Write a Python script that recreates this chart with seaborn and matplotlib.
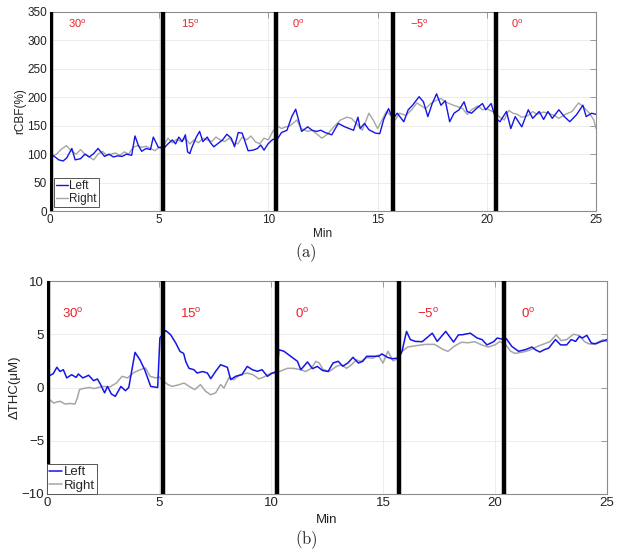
import numpy as np
import pandas as pd
import matplotlib
matplotlib.use("Agg")
import matplotlib.pyplot as plt
import seaborn as sns

# ---------------- data ----------------
# Panel (a): rCBF (%)
a_left_t = [0, 0.2, 0.4, 0.6, 0.76, 1.0, 1.15, 1.4, 1.6, 1.8, 2.0, 2.2, 2.5, 2.7, 2.9, 3.1, 3.3, 3.5,
            3.74, 3.89, 4.05, 4.2, 4.4, 4.6, 4.73, 4.96, 5.2, 5.4, 5.6, 5.75, 5.9, 6.05, 6.2, 6.3, 6.4,
            6.5, 6.7, 6.85, 7.0, 7.2, 7.35, 7.5, 7.7, 7.9, 8.1, 8.3, 8.45, 8.62, 8.8, 9.07, 9.3, 9.5,
            9.65, 9.8, 9.98, 10.2, 10.4, 10.6, 10.85, 11.07, 11.25, 11.52, 11.8, 12.0, 12.2, 12.4,
            12.6, 12.9, 13.2, 13.5, 13.9, 14.1, 14.2, 14.4, 14.6, 14.9, 15.1, 15.28, 15.5, 15.7, 15.9,
            16.2, 16.4, 16.6, 16.9, 17.1, 17.3, 17.5, 17.7, 17.9, 18.1, 18.3, 18.5, 18.73, 18.96,
            19.1, 19.3, 19.55, 19.8, 19.95, 20.2, 20.4, 20.6, 20.9, 21.1, 21.3, 21.6, 21.9, 22.1,
            22.4, 22.6, 22.8, 23.0, 23.3, 23.55, 23.8, 24.1, 24.4, 24.55, 24.8, 25.0]
a_left_v = [100, 96, 90, 88, 93, 110, 90, 92, 100, 95, 101, 110, 96, 100, 95, 97, 96, 100,
            98, 132, 115, 105, 110, 108, 130, 112, 110, 118, 125, 118, 130, 122, 134, 104, 101,
            112, 130, 140, 122, 130, 120, 113, 119, 125, 135, 128, 113, 138, 137, 106, 107, 110,
            116, 107, 118, 126, 126, 138, 142, 166, 179, 140, 148, 142, 140, 142,
            138, 134, 154, 148, 142, 165, 145, 154, 143, 137, 136, 161, 180, 162, 172,
            157, 178, 186, 201, 192, 166, 189, 206, 186, 194, 157, 172, 178, 192,
            175, 172, 181, 189, 178, 189, 163, 157, 175, 145, 166, 148, 178, 163,
            175, 161, 175, 163, 178, 166, 157, 169, 186, 166, 172, 170]

a_right_t = [0, 0.3, 0.5, 0.75, 1.0, 1.2, 1.4, 1.6, 1.8, 2.0, 2.2, 2.4, 2.6, 2.8, 3.0, 3.2, 3.4, 3.6,
             3.8, 4.0, 4.2, 4.4, 4.6, 4.8, 5.0, 5.2, 5.4, 5.6, 5.8, 6.0, 6.2, 6.4, 6.6, 6.8, 7.0,
             7.2, 7.4, 7.6, 7.8, 8.0, 8.2, 8.4, 8.6, 8.8, 9.0, 9.2, 9.4, 9.6, 9.8, 10.0, 10.2, 10.4,
             10.6, 10.8, 11.0, 11.3, 11.5, 11.8, 12.0, 12.2, 12.45, 12.7, 13.0, 13.3, 13.6, 13.8,
             14.0, 14.3, 14.6, 14.8, 15.0, 15.2, 15.4, 15.6, 15.8, 16.0, 16.3, 16.6, 16.8, 17.0,
             17.2, 17.4, 17.6, 17.9, 18.1, 18.4, 18.7, 18.9, 19.1, 19.3, 19.6, 19.8, 20.0, 20.2,
             20.4, 20.6, 20.8, 21.0, 21.2, 21.4, 21.6, 21.9, 22.1, 22.3, 22.6, 22.8, 23.1, 23.3,
             23.6, 23.9, 24.2, 24.4, 24.5, 24.7, 24.9, 25.0]
a_right_v = [95, 100, 108, 115, 105, 100, 108, 100, 95, 90, 100, 105, 98, 100, 102, 98, 104, 100,
             112, 115, 112, 114, 110, 106, 112, 115, 128, 120, 126, 122, 128, 118, 125, 120, 128,
             125, 122, 130, 125, 122, 128, 120, 118, 130, 125, 132, 122, 118, 128, 125, 140, 150,
             145, 148, 150, 160, 145, 140, 142, 136, 128, 135, 148, 160, 165, 163,
             155, 142, 172, 160, 145, 160, 175, 168, 160, 172, 168, 180, 190, 185,
             180, 188, 193, 198, 192, 187, 183, 180, 170, 178, 185, 178, 180, 176,
             172, 165, 160, 177, 172, 170, 165, 168, 175, 170, 174, 172, 168, 163,
             170, 175, 190, 184, 180, 172, 160, 145]

# Panel (b): delta THC (uM)
b_left_t = [0.0, 0.1, 0.28, 0.44, 0.58, 0.73, 0.88, 1.1, 1.3, 1.4, 1.6, 1.86, 2.08, 2.25, 2.38, 2.57,
            2.7, 2.87, 3.05, 3.3, 3.5, 3.65, 3.93, 4.15, 4.36, 4.63, 4.94, 5.04, 5.3, 5.52, 5.75,
            5.94, 6.1, 6.2, 6.34, 6.56, 6.7, 6.95, 7.16, 7.31, 7.53, 7.75, 8.05, 8.2, 8.42, 8.7,
            8.94, 9.17, 9.39, 9.6, 9.84, 10.06, 10.28, 10.35, 10.58, 10.88, 11.18, 11.33, 11.63,
            11.85, 12.07, 12.3, 12.55, 12.77, 13.0, 13.2, 13.43, 13.66, 13.9, 14.1, 14.27, 14.5,
            14.8, 14.95, 15.2, 15.4, 15.7, 15.85, 16.05, 16.22, 16.45, 16.75, 17.2, 17.42, 17.8,
            18.15, 18.37, 18.53, 18.9, 19.2, 19.42, 19.64, 19.94, 20.1, 20.3, 20.5, 20.75, 21.05,
            21.35, 21.65, 21.8, 22.0, 22.2, 22.4, 22.7, 22.93, 23.2, 23.4, 23.6, 23.77, 23.9,
            24.1, 24.3, 24.5, 24.75, 24.9, 25.0]
b_left_v = [1.6, 1.1, 1.3, 1.9, 1.5, 1.67, 0.9, 1.2, 0.95, 1.27, 0.9, 1.15, 0.64, 0.8, 0.33, -0.5,
            0.1, -0.6, -0.83, 0.1, -0.3, 0.0, 3.3, 2.6, 1.67, 0.1, 0.0, 4.65, 5.35, 4.95, 4.17,
            3.38, 3.2, 2.4, 1.8, 1.67, 1.36, 1.5, 1.36, 0.83, 1.52, 2.14, 1.9, 0.74, 1.05, 1.2,
            1.98, 1.67, 1.52, 1.67, 1.05, 1.36, 1.52, 3.55, 3.4, 2.93, 2.46, 1.67, 2.4,
            1.77, 1.98, 1.6, 1.5, 2.3, 2.46, 2.0, 2.3, 2.83, 2.3, 2.46, 2.93, 2.93,
            2.93, 3.15, 2.83, 2.7, 2.77, 3.4, 5.27, 4.5, 4.33, 4.3, 5.1, 4.33, 5.27,
            4.27, 4.95, 4.95, 5.1, 4.65, 4.5, 4.0, 4.3, 4.65, 4.55, 4.6, 3.86, 3.4,
            3.55, 3.8, 3.55, 3.33, 3.55, 3.7, 4.5, 4.0, 4.0, 4.5, 4.33, 4.8, 4.65,
            4.9, 4.17, 4.1, 4.33, 4.4, 4.5]

b_right_t = [0.0, 0.15, 0.3, 0.45, 0.6, 0.8, 1.0, 1.25, 1.35, 1.45, 1.6, 1.9, 2.1, 2.3, 2.5, 2.8, 3.1,
             3.35, 3.6, 3.85, 4.15, 4.4, 4.6, 4.85, 5.0, 5.2, 5.4, 5.6, 5.9, 6.12, 6.35, 6.6, 6.85,
             7.08, 7.31, 7.53, 7.75, 7.9, 8.13, 8.35, 8.6, 8.94, 9.2, 9.46, 9.7, 10.0, 10.2, 10.4,
             10.73, 11.0, 11.33, 11.55, 11.8, 12.0, 12.15, 12.32, 12.6, 12.92, 13.15, 13.37, 13.6,
             13.81, 14.0, 14.26, 14.55, 14.78, 15.0, 15.22, 15.45, 15.7, 15.85, 16.1, 16.4, 16.9,
             17.3, 17.7, 17.9, 18.2, 18.5, 18.8, 19.1, 19.4, 19.7, 20.0, 20.2, 20.45, 20.7, 20.9,
             21.3, 21.6, 21.9, 22.2, 22.45, 22.73, 22.95, 23.2, 23.5, 23.75, 24.0, 24.2, 24.4,
             24.6, 24.85, 25.0]
b_right_v = [-1.0, -1.2, -1.46, -1.35, -1.3, -1.55, -1.5, -1.55, -1.0, -0.2, -0.1, 0.0, -0.1, 0.0,
             0.1, 0.05, 0.42, 1.05, 0.9, 1.36, 1.67, 1.83, 1.05, 0.9, 1.0, 0.6, 0.27, 0.1, 0.27,
             0.42, 0.1, -0.2, 0.27, -0.36, -0.68, -0.5, 0.27, -0.05, 0.95, 0.74, 1.2, 1.36, 1.2,
             0.8, 1.0, 1.36, 1.3, 1.52, 1.8, 1.8, 1.67, 1.5, 1.8, 2.46, 2.3, 1.7, 1.5, 1.98, 2.14,
             1.8, 2.14, 2.6, 2.45, 2.8, 2.75, 3.05, 2.3, 3.4, 2.5, 2.75, 3.4, 3.8, 3.9, 4.05,
             4.05, 3.55, 3.4, 3.9, 4.25, 4.2, 4.3, 4.0, 3.8, 4.0, 4.3, 4.1, 3.4, 3.2,
             3.35, 3.55, 3.86, 4.1, 4.3, 4.95, 4.4, 4.5, 5.0, 4.9, 4.3, 4.1, 4.05,
             4.27, 4.5, 4.3]

# tilt changes (min) and tilt angle labels
a_tilt_times = [0.05, 5.17, 10.35, 15.72, 20.4]
b_tilt_times = [0.06, 5.19, 10.27, 15.73, 20.42]
tilt_labels = ["30$^{o}$", "15$^{o}$", "0$^{o}$", "$-$5$^{o}$", "0$^{o}$"]
a_label_x = [1.25, 6.4, 11.35, 16.9, 21.4]
b_label_x = [1.15, 6.4, 11.37, 17.0, 21.5]

a_yticks = [0, 50, 100, 150, 200, 250, 300, 350]
b_yticks = [-10, -5, 0, 5, 10]
x_ticks = [0, 5, 10, 15, 20, 25]

# ---------------- style ----------------
sns.set_style("white")
plt.rcParams["font.family"] = ["Liberation Sans", "DejaVu Sans"]
plt.rcParams["mathtext.default"] = "regular"
plt.rcParams["mathtext.fontset"] = "cm"

BLUE = "#1515e6"
GRAY = "#a6a6a6"
SPINE = "#8c8c8c"

fig = plt.figure(figsize=(6.2, 5.54), dpi=100)
ax_a = fig.add_axes([50 / 620, (554 - 211) / 554, 546 / 620, 199 / 554])
ax_b = fig.add_axes([47 / 620, (554 - 494) / 554, 560 / 620, 213 / 554])


def draw_panel(ax, lt, lv, rt, rv, tilt_t, label_x, label_y, yticks, ylim, ylabel,
               fs_tick, fs_lab, fs_red, lw, leg_pad, xlabel_y):
    df_l = pd.DataFrame({"t": lt, "v": lv})
    df_r = pd.DataFrame({"t": rt, "v": rv})
    sns.lineplot(data=df_l, x="t", y="v", ax=ax, color=BLUE, lw=lw, label="Left",
                 estimator=None, sort=False, zorder=4)
    sns.lineplot(data=df_r, x="t", y="v", ax=ax, color=GRAY, lw=lw, label="Right",
                 estimator=None, sort=False, zorder=3)
    for t in tilt_t:
        ax.axvline(t, color="black", lw=3.2, zorder=5)
    for x, s in zip(label_x, tilt_labels):
        ax.text(x, label_y, s, color="#e8202a", fontsize=fs_red, ha="center", va="center",
                zorder=6)
    ax.set_xlim(0, 25)
    ax.set_ylim(*ylim)
    ax.set_xticks(x_ticks)
    ax.set_yticks(yticks)
    ax.grid(True, color="#ececec", lw=0.7, ls="-")
    ax.set_axisbelow(True)
    for sp in ax.spines.values():
        sp.set_visible(True)
        sp.set_color(SPINE)
        sp.set_linewidth(0.8)
    ax.tick_params(direction="in", top=True, right=True, length=4, width=0.6,
                   color=SPINE, labelsize=fs_tick, labelcolor="#222222", pad=2)
    ax.set_ylabel(ylabel, fontsize=fs_lab, color="#222222", labelpad=1)
    ax.set_xlabel("Min", fontsize=fs_lab, color="#222222")
    ax.xaxis.set_label_coords(0.5, xlabel_y)
    leg = ax.legend(loc="lower left", fontsize=fs_lab, frameon=True, fancybox=False,
                    framealpha=1, edgecolor="#555555", borderpad=0.15, handlelength=1.0,
                    handletextpad=0.15, labelspacing=0.1, borderaxespad=leg_pad)
    leg.get_frame().set_linewidth(0.7)
    leg.set_zorder(10)


draw_panel(ax_a, a_left_t, a_left_v, a_right_t, a_right_v, a_tilt_times, a_label_x, 329,
           a_yticks, (0, 350), "rCBF(%)", 8.5, 8.5, 8, 1.0, 0.35, -0.085)
draw_panel(ax_b, b_left_t, b_left_v, b_right_t, b_right_v, b_tilt_times, b_label_x, 6.9,
           b_yticks, (-10, 10), "ΔTHC(μM)", 9.5, 9.5, 9.5, 1.1, 0.0, -0.095)

fig.text(306 / 620, 1 - 253 / 554, r"$\mathrm{(a)}$", ha="center", va="center", fontsize=12)
fig.text(306 / 620, 1 - 540 / 554, r"$\mathrm{(b)}$", ha="center", va="center", fontsize=12)

fig.savefig("out.png", dpi=100)
